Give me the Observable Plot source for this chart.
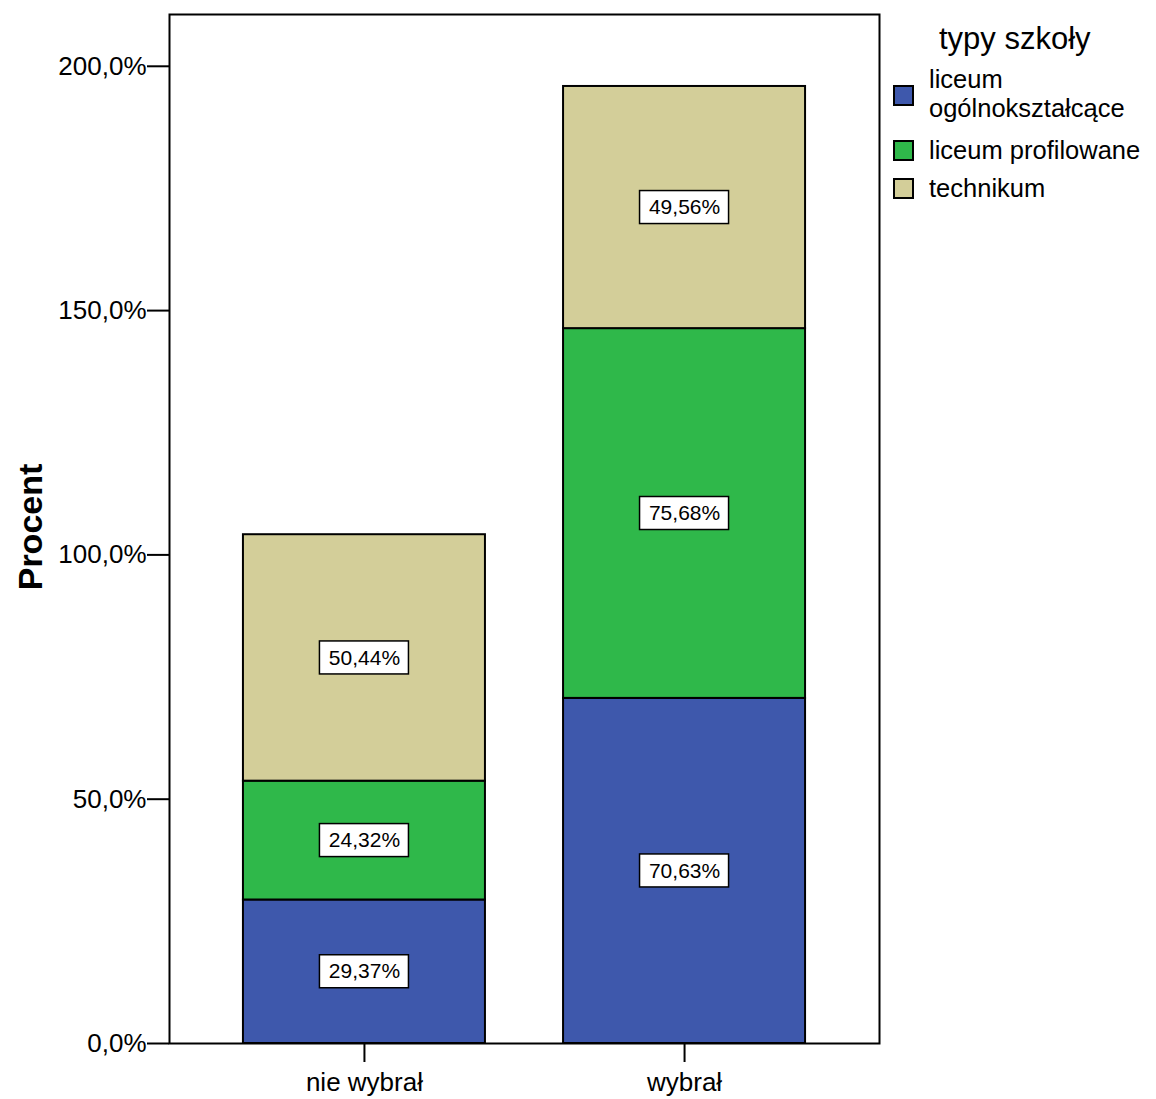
<!DOCTYPE html>
<html>
<head>
<meta charset="utf-8">
<script src="https://cdn.jsdelivr.net/npm/d3@7"></script>
<script src="https://cdn.jsdelivr.net/npm/@observablehq/plot@0.6"></script>
<style>
  html, body { margin: 0; padding: 0; background: #fff; }
  #wrap { position: relative; width: 1156px; height: 1099px; font-family: "Liberation Sans", Arial, sans-serif; }
  #legend { position: absolute; left: 0; top: 0; width: 1156px; height: 1099px; pointer-events: none; }
  #legend .title { position: absolute; left: 939px; top: 22px; font-size: 31px; line-height: 34px; color: #000; white-space: nowrap; }
  #legend .sw { position: absolute; left: 893px; width: 17px; height: 17px; border: 2px solid #000; }
  #legend .lab { position: absolute; left: 929px; font-size: 25.5px; height: 24px; line-height: 24px; white-space: nowrap; color: #000; }
</style>
</head>
<body>
<div id="wrap"><div id="legend"></div></div>
<script>
const categories = ["nie wybrał", "wybrał"];
const types = ["liceum ogólnokształcące", "liceum profilowane", "technikum"];
const legendLabels = [["liceum", "ogólnokształcące"], ["liceum profilowane"], ["technikum"]];
const colors = ["#3E58AC", "#2FB84A", "#D3CE99"];
const valuesNieWybral = [29.37, 24.32, 50.44];
const valuesWybral = [70.63, 75.68, 49.56];
const yTicks = [0, 50, 100, 150, 200];
const yTickLabels = ["0,0%", "50,0%", "100,0%", "150,0%", "200,0%"];

const seriesByCat = [valuesNieWybral, valuesWybral];
const rows = [];
categories.forEach((cat, ci) => {
  let acc = 0;
  types.forEach((t, ti) => {
    const v = seriesByCat[ci][ti];
    rows.push({cat, type: t, value: v, y1: acc, y2: acc + v, mid: acc + v / 2});
    acc += v;
  });
});
const fmt = v => v.toFixed(2).replace(".", ",") + "%";

const chart = Plot.plot({
  width: 1156,
  height: 1099,
  marginLeft: 169,
  marginRight: 277,
  marginTop: 14,
  marginBottom: 56,
  style: {fontFamily: '"Liberation Sans", Arial, sans-serif', background: "#fff", color: "#000"},
  x: {domain: categories, paddingInner: 0.244, paddingOuter: 0.231, round: false},
  y: {domain: [0, 210.6]},
  color: {domain: types, range: colors},
  marks: [
    Plot.barY(rows, {x: "cat", y1: "y1", y2: "y2", fill: "type", stroke: "#000", strokeWidth: 2}),
    Plot.barY(rows, {x: "cat", y1: "mid", y2: "mid", fill: "#fff", stroke: "#000", strokeWidth: 1.5,
      insetLeft: 76.5, insetRight: 76.5, insetTop: -16.5, insetBottom: -16.5}),
    Plot.text(rows, {x: "cat", y: "mid", text: d => fmt(d.value), fontSize: 21, fill: "#000"}),
    Plot.axisY({ticks: yTicks, tickFormat: d => yTickLabels[yTicks.indexOf(d)], tickSize: 22, tickPadding: 1,
      fontSize: 26, label: null, strokeWidth: 2, stroke: "#000", fill: "#000"}),
    Plot.axisX({tickSize: 19, tickPadding: 10, fontSize: 26, label: null, strokeWidth: 2, stroke: "#000", fill: "#000"}),
    Plot.frame({stroke: "#000", strokeWidth: 2}),
    Plot.text(["Procent"], {frameAnchor: "left", textAnchor: "middle", dx: -138, dy: -2, rotate: -90,
      fontWeight: "bold", fontSize: 34, fill: "#000"})
  ]
});
const wrap = document.getElementById("wrap");
wrap.insertBefore(chart, wrap.firstChild);

// legend
const legend = document.getElementById("legend");
const title = document.createElement("div");
title.className = "title";
title.textContent = "typy szkoły";
legend.appendChild(title);
const swatchTops = [85, 140, 178];
const labelTops = [[67, 96], [138], [176]];
types.forEach((t, i) => {
  const sw = document.createElement("div");
  sw.className = "sw";
  sw.style.top = swatchTops[i] + "px";
  sw.style.background = colors[i];
  legend.appendChild(sw);
  legendLabels[i].forEach((line, li) => {
    const lab = document.createElement("div");
    lab.className = "lab";
    lab.style.top = labelTops[i][li] + "px";
    lab.textContent = line;
    legend.appendChild(lab);
  });
});
</script>
</body>
</html>
